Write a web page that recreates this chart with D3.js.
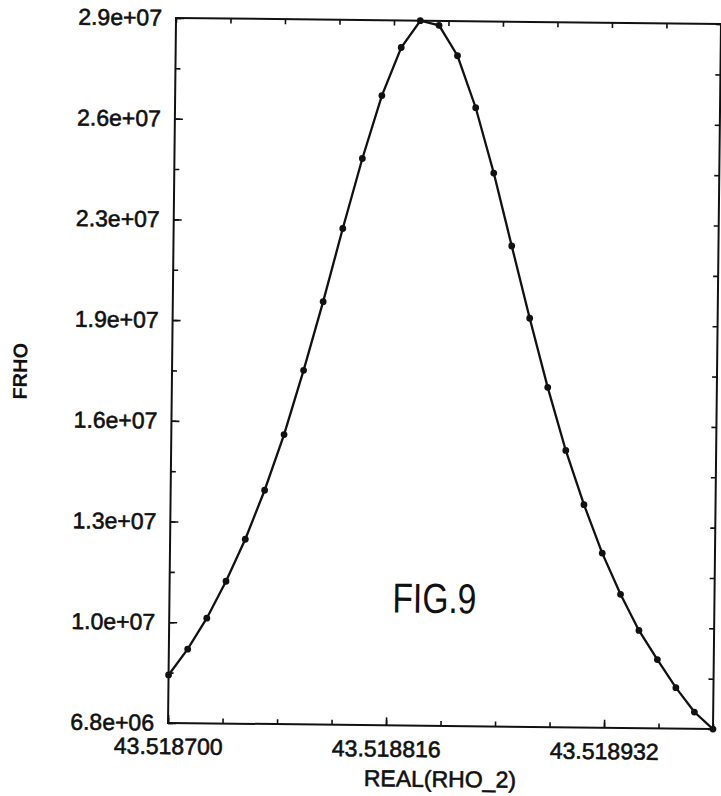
<!DOCTYPE html>
<html lang="en">
<head>
<meta charset="UTF-8">
<title>FIG.9</title>
<script src="https://d3js.org/d3.v7.min.js"></script>
<style>
    body{ margin:0; background:#fff; }
    svg text{ font-family:"Liberation Sans", Arial, sans-serif; fill:#111; }
    .tick text{ font-size:23px; stroke:#111; stroke-width:.6px; }
    .frame{ fill:none; stroke:#111; stroke-width:2px; }
</style>
</head>
<body>
<svg id="main" width="721" height="796"></svg>
<script>
    // REAL(RHO_2) sample positions
    let rho = [43.518700, 43.518710, 43.518720, 43.518730, 43.518740, 43.518750,
        43.518760, 43.518770, 43.518780, 43.518790, 43.518800, 43.518810,
        43.518820, 43.518830, 43.518840, 43.518850, 43.518860, 43.518870,
        43.518880, 43.518890, 43.518900, 43.518910, 43.518920, 43.518930,
        43.518940, 43.518950, 43.518960, 43.518970, 43.518980, 43.518990]
    // FRHO
    let frho = [8.31e6, 9.13e6, 1.011e7, 1.128e7, 1.261e7, 1.416e7,
        1.592e7, 1.795e7, 2.012e7, 2.243e7, 2.464e7, 2.663e7,
        2.815e7, 2.90e7, 2.886e7, 2.791e7, 2.628e7, 2.423e7,
        2.194e7, 1.967e7, 1.750e7, 1.552e7, 1.382e7, 1.230e7,
        1.101e7, 9.88e6, 8.97e6, 8.09e6, 7.33e6, 6.8e6]

    let xDomain = [43.518700, 43.518990]
    let yDomain = [6.8e6, 2.9e7]
    let xTickLabels = ["43.518700", "43.518816", "43.518932"]
    let yTickLabels = ["6.8e+06", "1.0e+07", "1.3e+07", "1.6e+07", "1.9e+07", "2.3e+07", "2.6e+07", "2.9e+07"]

    let pL = 172, pR = 717, pT = 21, pB = 726

    let svg = d3.select("#main")
    // the scanned figure sits slightly rotated on the page
    let g = svg.append("g").attr("transform", "rotate(0.65 444 374)")

    let x = d3.scaleLinear().domain(xDomain).range([pL, pR])
    let y = d3.scaleLinear().domain(yDomain).range([pB, pT])

    let xStep = (xDomain[1] - xDomain[0]) / 2.5
    let yStep = (yDomain[1] - yDomain[0]) / 7
    let xMajor = xTickLabels.map((d, i) => xDomain[0] + i * xStep)
    let xMinor = d3.range(11).map(i => xDomain[0] + i * xStep / 4)
    let yMajor = yTickLabels.map((d, i) => yDomain[0] + i * yStep)
    let yMinor = d3.range(15).map(i => yDomain[0] + i * yStep / 2)

    function clean(sel){ sel.select(".domain").remove(); sel.selectAll(".tick line").attr("stroke", "#111").attr("stroke-width", 1.6) }

    // minor ticks all round
    g.append("g").attr("transform", `translate(0,${pB})`)
        .call(d3.axisBottom(x).tickValues(xMinor).tickSize(-5).tickFormat("")).call(clean)
    g.append("g").attr("transform", `translate(0,${pT})`)
        .call(d3.axisTop(x).tickValues(xMinor).tickSize(-5).tickFormat("")).call(clean)
    g.append("g").attr("transform", `translate(${pL},0)`)
        .call(d3.axisLeft(y).tickValues(yMinor).tickSize(-5).tickFormat("")).call(clean)
    g.append("g").attr("transform", `translate(${pR},0)`)
        .call(d3.axisRight(y).tickValues(yMinor).tickSize(-5).tickFormat("")).call(clean)

    // major ticks with labels
    g.append("g").attr("transform", `translate(0,${pB})`)
        .call(d3.axisBottom(x).tickValues(xMajor).tickSize(-8).tickPadding(15)
            .tickFormat((d, i) => xTickLabels[i])).call(clean)
    g.append("g").attr("transform", `translate(${pL},0)`)
        .call(d3.axisLeft(y).tickValues(yMajor).tickSize(-8).tickPadding(14)
            .tickFormat((d, i) => yTickLabels[i])).call(clean)
    g.selectAll("g[font-family]").attr("font-family", null).attr("font-size", null)

    g.append("rect").attr("class", "frame")
        .attr("x", pL).attr("y", pT)
        .attr("width", pR - pL).attr("height", pB - pT)

    let line = d3.line().x((d, i) => x(rho[i])).y(d => y(d))
    g.append("path").datum(frho)
        .attr("d", line)
        .attr("fill", "none")
        .attr("stroke", "#111")
        .attr("stroke-width", 2.3)

    g.selectAll("circle.pt").data(frho).join("circle")
        .attr("class", "pt")
        .attr("cx", (d, i) => x(rho[i]))
        .attr("cy", d => y(d))
        .attr("r", 3.4)
        .attr("fill", "#111")

    g.append("text")
        .attr("x", (pL + pR) / 2).attr("y", 787)
        .attr("text-anchor", "middle")
        .attr("font-size", 23)
        .attr("stroke", "#111").attr("stroke-width", .6)
        .text("REAL(RHO_2)")

    g.append("text")
        .attr("transform", "translate(27,376) rotate(-90)")
        .attr("text-anchor", "middle")
        .attr("font-size", 20)
        .attr("font-weight", "bold")
        .text("FRHO")

    // narrow, light lettering of the figure number
    g.append("text")
        .attr("transform", "translate(395,613) scale(0.8,1)")
        .attr("font-size", 42)
        .attr("fill", "#333")
        .text("FIG.9")
</script>
</body>
</html>
